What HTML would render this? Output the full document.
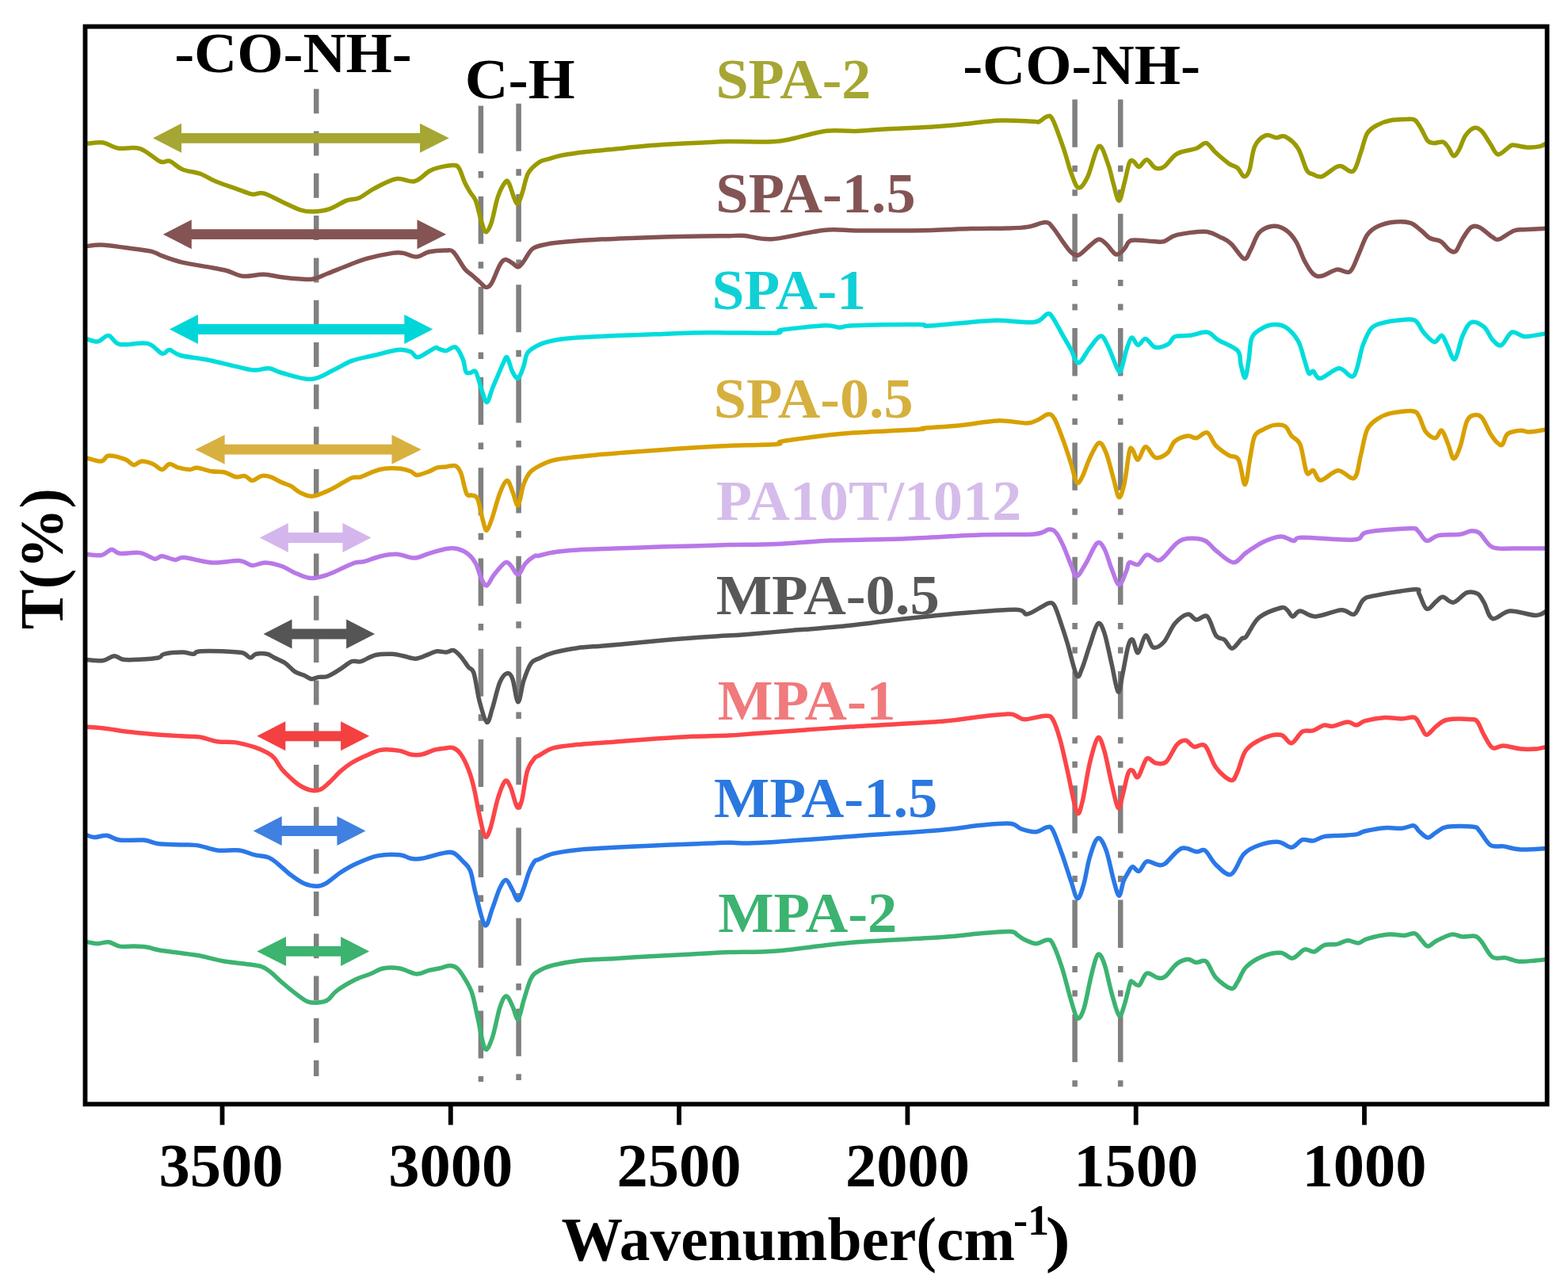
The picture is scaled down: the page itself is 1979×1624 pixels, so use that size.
<!DOCTYPE html>
<html><head><meta charset="utf-8"><title>FTIR</title>
<style>html,body{margin:0;padding:0;background:#fff;}svg{display:block;}</style>
</head><body>
<svg width="1979" height="1624" viewBox="0 0 1979 1624">
<rect width="1979" height="1624" fill="#fff"/>
<g stroke="#808080" stroke-width="6.5" fill="none">
<line x1="399.2" y1="112.2" x2="399.2" y2="1358" stroke-dasharray="31 22.3"/>
<line x1="606.9" y1="133.5" x2="606.9" y2="1365" stroke-dasharray="60 22.5 8.5 23.2"/>
<line x1="654.6" y1="130.8" x2="654.6" y2="1363" stroke-dasharray="60 22.5 8.5 23.2"/>
<line x1="1356.6" y1="125.5" x2="1356.6" y2="1373" stroke-dasharray="60.3 23 8 22.5 8 22.5"/>
<line x1="1414.2" y1="125.5" x2="1414.2" y2="1373" stroke-dasharray="60.3 23 8 22.5 8 22.5"/>
</g>
<polygon fill="#a6a634" points="193.0,174.3 229.0,155.8 229.0,167.9 530.0,167.9 530.0,155.8 566.7,174.3 530.0,192.8 530.0,180.7 229.0,180.7 229.0,192.8"/>
<polygon fill="#845454" points="205.8,295.7 241.8,277.2 241.8,289.3 526.5,289.3 526.5,277.2 563.2,295.7 526.5,314.2 526.5,302.1 241.8,302.1 241.8,314.2"/>
<polygon fill="#00d6d8" points="213.9,415.5 249.9,397.0 249.9,409.1 510.3,409.1 510.3,397.0 546.3,415.5 510.3,434.0 510.3,421.9 249.9,421.9 249.9,434.0"/>
<polygon fill="#d8b040" points="246.4,567.2 283.6,548.7 283.6,560.8 494.5,560.8 494.5,548.7 531.9,567.2 494.5,585.7 494.5,573.6 283.6,573.6 283.6,585.7"/>
<polygon fill="#d4b6ec" points="327.8,678.5 363.8,660.0 363.8,672.1 432.4,672.1 432.4,660.0 468.4,678.5 432.4,697.0 432.4,684.9 363.8,684.9 363.8,697.0"/>
<polygon fill="#555555" points="332.5,800.0 368.5,781.5 368.5,793.6 437.1,793.6 437.1,781.5 473.1,800.0 437.1,818.5 437.1,806.4 368.5,806.4 368.5,818.5"/>
<polygon fill="#f44040" points="324.3,928.8 360.3,910.3 360.3,922.4 430.1,922.4 430.1,910.3 466.1,928.8 430.1,947.3 430.1,935.2 360.3,935.2 360.3,947.3"/>
<polygon fill="#4080e0" points="319.7,1048.5 355.7,1030.0 355.7,1042.1 425.4,1042.1 425.4,1030.0 461.5,1048.5 425.4,1067.0 425.4,1054.9 355.7,1054.9 355.7,1067.0"/>
<polygon fill="#3cb36e" points="324.3,1200.4 361.0,1181.9 361.0,1194.0 430.1,1194.0 430.1,1181.9 466.1,1200.4 430.1,1218.9 430.1,1206.8 361.0,1206.8 361.0,1218.9"/>
<path d="M108.1,181.6 C111.8,181.3 123.4,179.1 130.2,180.0 C137.0,180.9 141.1,185.7 148.8,187.0 C156.6,188.3 167.8,184.8 176.7,187.6 C185.6,190.4 196.1,201.3 202.3,203.9 C208.5,206.5 209.2,201.6 213.9,203.2 C218.6,204.8 223.6,211.0 230.2,213.7 C236.8,216.4 246.4,217.0 253.4,219.5 C260.4,222.0 264.2,225.6 272.0,228.8 C279.8,232.0 292.1,236.1 299.9,238.8 C307.6,241.5 313.1,244.2 318.5,245.1 C323.9,245.9 326.3,242.3 332.5,243.9 C338.7,245.5 348.0,250.9 355.7,254.4 C363.4,257.9 372.3,262.7 378.9,264.8 C385.5,266.9 389.0,267.3 395.2,267.1 C401.4,266.9 409.1,266.0 416.1,263.7 C423.1,261.4 430.9,255.5 437.1,253.2 C443.3,250.9 447.5,252.2 453.3,249.7 C459.1,247.2 464.1,242.1 471.9,238.1 C479.6,234.1 491.3,227.4 499.8,225.8 C508.3,224.2 516.1,230.4 523.1,228.8 C530.1,227.2 536.6,218.9 541.7,216.0 C546.9,213.1 548.9,212.6 554.0,211.4 C559.1,210.2 568.2,208.4 572.5,208.6 C576.8,208.8 577.2,208.9 579.5,212.5 C581.8,216.1 584.2,225.0 586.5,230.0 C588.8,235.0 591.2,238.8 593.5,242.7 C595.8,246.6 598.1,247.2 600.4,253.2 C602.7,259.2 605.3,272.2 607.4,278.8 C609.5,285.4 611.1,292.3 613.2,292.7 C615.3,293.1 617.7,288.5 620.2,281.1 C622.7,273.8 625.4,257.1 628.3,248.6 C631.2,240.1 635.3,232.9 637.6,230.0 C639.9,227.1 640.3,227.6 642.3,231.1 C644.2,234.6 647.4,246.6 649.3,250.9 C651.2,255.2 652.2,258.2 653.9,256.7 C655.6,255.1 657.6,248.0 659.7,241.6 C661.8,235.2 663.3,224.4 666.7,218.3 C670.1,212.2 675.8,207.9 680.0,204.9 C684.2,201.9 687.1,202.1 692.1,200.6 C697.1,199.1 702.2,197.3 710.3,195.8 C718.4,194.3 729.5,192.8 740.6,191.5 C751.7,190.2 764.9,189.1 777.0,187.9 C789.1,186.7 801.3,185.3 813.4,184.3 C825.5,183.3 837.7,182.5 849.8,181.8 C861.9,181.1 874.5,180.5 886.2,180.0 C897.9,179.5 905.2,178.8 920.0,178.6 C934.8,178.4 961.6,179.4 974.9,178.8 C988.2,178.2 988.7,177.3 1000.0,175.0 C1011.3,172.7 1029.5,166.8 1042.8,165.2 C1056.1,163.6 1067.7,165.9 1080.0,165.5 C1092.3,165.1 1100.2,163.9 1116.4,163.0 C1132.6,162.1 1160.8,161.0 1177.0,160.0 C1193.2,159.0 1199.2,158.3 1213.4,157.0 C1227.6,155.7 1246.8,152.7 1261.9,152.1 C1277.1,151.5 1296.1,153.1 1304.3,153.3 C1312.5,153.6 1308.4,154.7 1311.3,153.6 C1314.2,152.5 1318.6,147.4 1321.5,147.0 C1324.4,146.6 1325.2,144.2 1328.7,151.0 C1332.2,157.8 1338.7,176.9 1342.6,188.1 C1346.5,199.3 1348.8,210.2 1351.9,218.3 C1355.0,226.4 1357.7,236.1 1361.2,236.9 C1364.7,237.7 1368.5,231.7 1372.8,223.0 C1377.1,214.3 1382.5,187.3 1386.8,184.6 C1391.1,181.9 1395.3,198.8 1398.4,206.7 C1401.5,214.6 1403.1,224.6 1405.4,232.3 C1407.7,240.1 1410.1,253.6 1412.4,253.2 C1414.7,252.8 1417.1,238.0 1419.3,230.0 C1421.5,222.0 1423.6,209.4 1425.5,205.0 C1427.4,200.6 1428.9,202.8 1430.9,203.7 C1432.9,204.6 1435.0,210.9 1437.7,210.5 C1440.4,210.1 1443.9,201.3 1447.3,201.5 C1450.7,201.7 1454.6,210.4 1458.2,211.9 C1461.8,213.4 1464.5,213.5 1469.1,210.5 C1473.6,207.5 1478.7,198.0 1485.5,194.1 C1492.3,190.2 1503.9,189.6 1510.0,187.3 C1516.1,185.0 1518.2,179.6 1522.3,180.5 C1526.4,181.4 1529.8,188.5 1534.6,192.8 C1539.4,197.1 1546.5,203.2 1551.0,206.4 C1555.5,209.6 1558.7,209.2 1561.9,211.9 C1565.1,214.6 1567.6,222.4 1570.1,222.8 C1572.6,223.2 1574.6,221.0 1576.9,214.6 C1579.2,208.2 1580.3,191.9 1583.7,184.6 C1587.1,177.3 1592.9,172.7 1597.4,170.9 C1602.0,169.1 1606.9,173.5 1611.0,173.7 C1615.1,173.9 1617.4,170.0 1621.9,172.3 C1626.5,174.6 1633.8,180.2 1638.3,187.3 C1642.8,194.4 1646.0,209.2 1649.2,214.6 C1652.4,220.0 1654.2,218.6 1657.4,220.0 C1660.6,221.4 1663.8,224.2 1668.3,222.8 C1672.8,221.5 1680.6,214.1 1684.7,211.9 C1688.8,209.7 1689.0,209.0 1692.9,209.7 C1696.8,210.4 1703.8,218.8 1707.9,216.0 C1712.0,213.2 1714.5,200.8 1717.4,192.8 C1720.4,184.8 1722.0,174.1 1725.6,168.2 C1729.2,162.3 1734.2,160.0 1739.2,157.3 C1744.2,154.6 1749.7,152.9 1755.6,151.8 C1761.5,150.7 1769.7,150.6 1774.7,150.5 C1779.7,150.4 1782.4,149.3 1785.6,151.3 C1788.8,153.3 1791.1,158.3 1793.8,162.7 C1796.5,167.1 1799.3,174.7 1802.0,177.7 C1804.7,180.7 1807.0,180.3 1810.2,180.5 C1813.4,180.7 1818.1,178.2 1821.1,179.1 C1824.0,180.0 1825.6,182.9 1827.9,185.9 C1830.2,188.9 1832.4,196.3 1834.7,196.8 C1837.0,197.3 1839.1,193.0 1841.6,188.7 C1844.1,184.4 1846.5,175.4 1849.7,170.9 C1852.9,166.4 1857.3,162.3 1860.7,161.4 C1864.1,160.5 1866.8,162.1 1870.2,165.5 C1873.6,168.9 1877.7,176.9 1881.1,181.8 C1884.5,186.7 1886.6,194.4 1890.7,194.9 C1894.8,195.4 1902.3,186.6 1905.7,184.6 C1909.1,182.6 1907.5,183.0 1911.1,183.2 C1914.7,183.4 1922.0,185.7 1927.5,185.9 C1933.0,186.1 1939.8,185.5 1943.9,184.6 C1948.0,183.7 1950.7,181.2 1952.1,180.5" fill="none" stroke="#9a9a00" stroke-width="5.5" stroke-linejoin="round" stroke-linecap="butt"/>
<path d="M108.1,310.9 C111.4,310.6 119.6,308.7 127.9,309.0 C136.2,309.3 147.6,311.1 158.1,312.5 C168.6,313.9 182.9,315.4 190.7,317.1 C198.4,318.8 198.0,320.6 204.6,322.9 C211.2,325.2 220.5,328.8 230.2,331.1 C239.9,333.4 253.4,335.2 262.7,336.9 C272.0,338.6 278.6,339.6 286.0,341.5 C293.4,343.4 299.1,347.7 306.9,348.5 C314.6,349.3 324.4,346.0 332.5,346.2 C340.6,346.4 348.0,348.7 355.7,349.7 C363.4,350.7 372.3,351.6 378.9,352.0 C385.5,352.4 389.4,353.2 395.2,352.0 C401.0,350.8 406.8,347.7 413.8,345.0 C420.8,342.3 429.0,338.8 437.1,335.7 C445.2,332.6 452.9,329.1 462.6,326.4 C472.3,323.7 487.4,320.6 495.2,319.4 C502.9,318.2 504.1,318.6 509.1,319.4 C514.1,320.2 520.0,324.4 525.4,324.1 C530.8,323.8 535.4,319.2 541.7,317.8 C548.0,316.4 558.1,315.9 563.2,316.0 C568.3,316.1 568.6,314.4 572.5,318.3 C576.4,322.2 582.6,334.4 586.5,339.2 C590.4,344.0 592.7,344.6 595.8,347.3 C598.9,350.0 602.2,353.0 605.1,355.5 C608.0,358.0 610.7,362.0 613.2,362.4 C615.7,362.8 617.3,362.4 620.2,357.8 C623.1,353.2 627.8,339.6 630.7,334.6 C633.6,329.6 634.9,328.0 637.6,327.6 C640.3,327.2 644.2,330.6 646.9,332.2 C649.6,333.8 651.6,337.3 653.9,336.9 C656.2,336.5 657.8,333.8 660.9,329.9 C664.0,326.0 667.6,317.2 672.5,313.6 C677.4,310.0 684.7,309.4 690.0,308.1 C695.3,306.9 695.9,306.9 704.3,306.1 C712.7,305.3 726.5,304.0 740.6,303.1 C754.7,302.2 772.9,301.4 789.1,300.7 C805.3,300.0 821.5,299.4 837.7,298.9 C853.9,298.4 872.5,298.1 886.2,297.9 C899.9,297.7 911.0,297.8 920.0,297.7 C929.0,297.6 930.9,296.7 940.0,297.4 C949.1,298.1 958.3,302.9 974.9,301.7 C991.5,300.5 1022.1,292.2 1039.6,290.4 C1057.1,288.6 1065.2,290.9 1080.0,291.0 C1094.8,291.1 1112.3,291.1 1128.5,291.0 C1144.7,290.9 1160.8,290.8 1177.0,290.4 C1193.2,290.0 1209.3,289.0 1225.5,288.6 C1241.7,288.2 1261.9,288.4 1274.0,288.0 C1286.1,287.6 1290.7,287.4 1298.3,286.1 C1305.9,284.9 1314.3,280.4 1319.4,280.5 C1324.5,280.6 1324.8,282.6 1328.7,287.0 C1332.6,291.4 1338.7,301.5 1342.6,306.7 C1346.5,311.9 1348.8,315.8 1351.9,318.3 C1355.0,320.8 1357.3,323.2 1361.2,321.8 C1365.1,320.4 1370.9,313.5 1375.2,310.2 C1379.5,306.9 1383.3,302.4 1386.8,302.0 C1390.3,301.6 1392.6,304.7 1396.1,307.8 C1399.6,310.9 1404.6,318.9 1407.7,320.6 C1410.8,322.4 1412.7,319.6 1414.7,318.3 C1416.8,317.0 1417.8,315.3 1420.0,312.8 C1422.2,310.3 1422.3,304.7 1428.2,303.3 C1434.1,301.9 1448.7,304.4 1455.5,304.6 C1462.3,304.8 1464.1,306.0 1469.1,304.6 C1474.1,303.2 1476.8,298.4 1485.5,296.4 C1494.2,294.3 1511.9,291.8 1521.0,292.3 C1530.1,292.8 1534.6,296.7 1540.1,299.2 C1545.5,301.7 1548.7,302.8 1553.7,307.4 C1558.7,311.9 1566.0,325.1 1570.1,326.5 C1574.2,327.9 1575.1,321.0 1578.3,315.5 C1581.5,310.0 1584.7,298.7 1589.2,293.7 C1593.7,288.7 1600.0,286.2 1605.5,285.5 C1611.0,284.8 1616.9,286.4 1621.9,289.6 C1626.9,292.8 1631.5,298.0 1635.6,304.6 C1639.7,311.2 1642.9,322.4 1646.5,329.2 C1650.1,336.0 1653.8,342.4 1657.4,345.6 C1661.0,348.8 1663.3,349.2 1668.3,348.3 C1673.3,347.4 1681.5,341.0 1687.4,340.1 C1693.3,339.2 1699.2,346.0 1703.8,342.8 C1708.3,339.6 1711.1,328.7 1714.7,321.0 C1718.3,313.3 1721.5,302.3 1725.6,296.4 C1729.7,290.5 1733.3,288.2 1739.2,285.5 C1745.1,282.8 1754.3,280.8 1761.1,280.1 C1767.9,279.4 1774.8,279.6 1780.2,281.4 C1785.7,283.2 1789.7,287.8 1793.8,291.0 C1797.9,294.2 1800.6,298.2 1804.7,300.5 C1808.8,302.8 1814.3,302.1 1818.4,304.6 C1822.5,307.1 1826.1,313.4 1829.3,315.5 C1832.5,317.6 1834.8,319.2 1837.5,316.9 C1840.2,314.6 1842.4,306.9 1845.6,301.9 C1848.8,296.9 1852.9,289.4 1856.6,286.9 C1860.2,284.4 1863.0,284.8 1867.5,286.9 C1872.0,288.9 1879.7,296.7 1883.8,299.2 C1887.9,301.7 1887.5,303.3 1892.0,301.9 C1896.5,300.5 1905.2,293.1 1911.1,291.0 C1917.0,288.9 1920.7,290.1 1927.5,289.6 C1934.3,289.2 1948.0,288.5 1952.1,288.3" fill="none" stroke="#855252" stroke-width="5.5" stroke-linejoin="round" stroke-linecap="butt"/>
<path d="M108.1,427.1 C110.6,427.8 118.4,431.6 123.2,431.0 C128.1,430.4 132.5,422.8 137.2,423.4 C141.8,424.0 143.0,432.8 151.1,434.5 C159.2,436.2 177.1,431.5 186.0,433.4 C194.9,435.3 199.9,444.8 204.6,446.1 C209.2,447.5 210.0,441.1 213.9,441.5 C217.8,441.9 219.7,446.4 227.8,448.5 C235.9,450.6 251.1,452.0 262.7,454.3 C274.3,456.6 287.9,460.3 297.6,462.4 C307.3,464.5 313.8,466.7 320.8,467.1 C327.8,467.5 333.6,464.1 339.4,464.7 C345.2,465.3 346.8,468.2 355.7,470.5 C364.6,472.8 382.1,479.1 393.0,478.5 C403.9,477.9 412.3,471.0 420.8,467.1 C429.3,463.2 435.5,458.5 444.0,455.4 C452.5,452.3 462.2,450.8 471.9,448.5 C481.6,446.2 494.4,442.3 502.1,441.5 C509.9,440.7 514.1,442.2 518.4,443.8 C522.7,445.4 522.7,451.6 527.7,450.8 C532.7,450.0 544.2,440.9 548.6,439.2 C553.0,437.4 551.6,439.7 554.0,440.3 C556.4,440.9 559.7,443.0 563.2,442.6 C566.7,442.2 571.4,436.2 574.9,438.0 C578.4,439.8 582.0,447.9 584.2,453.1 C586.4,458.3 586.5,466.1 588.0,469.0 C589.5,471.9 591.4,470.4 593.5,470.5 C595.6,470.6 598.1,466.0 600.4,469.3 C602.7,472.6 605.1,483.8 607.4,490.2 C609.7,496.6 612.1,507.7 614.4,507.7 C616.7,507.7 619.1,495.8 621.4,490.2 C623.7,484.6 626.0,479.4 628.3,474.0 C630.6,468.6 633.3,461.8 635.3,458.0 C637.2,454.2 638.1,449.1 640.0,451.0 C641.9,452.9 644.6,464.9 646.9,469.3 C649.2,473.7 651.6,478.6 653.9,477.4 C656.2,476.2 658.9,467.7 660.9,462.3 C662.9,456.9 662.8,449.5 666.0,445.0 C669.2,440.5 674.6,437.8 680.0,435.2 C685.4,432.6 690.1,431.2 698.2,429.7 C706.3,428.2 715.4,427.1 728.5,426.1 C741.6,425.1 760.8,424.3 777.0,423.6 C793.2,422.9 809.3,422.4 825.5,421.8 C841.7,421.2 858.2,420.3 874.0,420.0 C889.8,419.7 902.2,419.9 920.0,419.9 C937.8,419.9 969.5,420.5 980.6,419.9 C991.7,419.3 976.6,417.7 986.7,416.2 C996.8,414.7 1029.2,411.3 1041.3,410.8 C1053.4,410.3 1053.4,413.2 1059.5,413.2 C1065.6,413.2 1061.0,411.4 1077.7,410.8 C1094.5,410.2 1144.5,409.5 1160.0,409.6 C1175.5,409.7 1161.8,411.6 1170.6,411.3 C1179.3,411.0 1197.8,409.0 1212.5,407.8 C1227.2,406.6 1243.4,404.5 1258.9,404.3 C1274.4,404.1 1294.9,408.0 1305.4,406.6 C1315.9,405.2 1317.8,397.2 1321.7,396.2 C1325.6,395.2 1325.2,396.0 1328.7,400.8 C1332.2,405.6 1338.7,418.4 1342.6,425.2 C1346.5,432.0 1348.8,436.1 1351.9,441.5 C1355.0,446.9 1357.3,458.2 1361.2,457.8 C1365.1,457.4 1370.6,444.8 1375.2,439.2 C1379.8,433.6 1385.2,424.4 1389.1,424.0 C1393.0,423.6 1394.9,430.0 1398.4,436.8 C1401.9,443.6 1407.3,459.6 1410.0,464.7 C1412.7,469.8 1412.8,471.0 1414.7,467.1 C1416.7,463.2 1419.5,448.4 1421.7,441.5 C1424.0,434.6 1425.8,427.0 1428.2,426.0 C1430.7,425.0 1433.5,435.4 1436.4,435.6 C1439.4,435.8 1442.3,426.9 1445.9,427.4 C1449.5,427.8 1453.4,437.2 1458.2,438.3 C1463.0,439.4 1470.5,436.5 1474.6,434.2 C1478.7,431.9 1478.2,426.5 1482.8,424.7 C1487.3,422.9 1495.1,424.2 1501.9,423.3 C1508.7,422.4 1517.8,418.3 1523.7,419.2 C1529.6,420.1 1530.9,424.9 1537.3,428.8 C1543.7,432.7 1557.1,437.2 1561.9,442.4 C1566.7,447.6 1564.4,454.3 1566.0,460.0 C1567.6,465.7 1569.7,477.3 1571.4,476.5 C1573.1,475.7 1574.6,463.2 1576.0,455.0 C1577.4,446.8 1577.4,433.8 1579.6,427.4 C1581.8,421.0 1584.9,419.4 1589.2,416.5 C1593.5,413.6 1600.0,410.4 1605.5,409.7 C1611.0,409.0 1616.4,409.0 1621.9,412.4 C1627.4,415.8 1634.2,423.1 1638.3,430.1 C1642.4,437.2 1644.2,447.9 1646.5,454.7 C1648.8,461.5 1650.1,468.8 1651.9,471.1 C1653.7,473.4 1655.0,467.2 1657.4,468.3 C1659.8,469.4 1661.0,478.1 1666.5,477.5 C1672.0,476.9 1683.1,465.3 1690.1,464.8 C1697.1,464.3 1703.5,479.2 1708.5,474.3 C1713.5,469.4 1716.3,445.7 1720.1,435.6 C1723.9,425.5 1726.5,418.6 1731.1,413.8 C1735.6,409.0 1742.0,408.5 1747.4,406.9 C1752.9,405.3 1757.4,404.6 1763.8,404.2 C1770.2,403.8 1780.1,401.7 1785.6,404.2 C1791.0,406.7 1792.4,414.6 1796.5,419.2 C1800.6,423.8 1806.3,430.8 1810.2,431.5 C1814.1,432.2 1817.0,422.6 1819.7,423.3 C1822.4,424.0 1823.8,430.6 1826.5,435.6 C1829.2,440.6 1832.9,455.1 1836.1,453.3 C1839.3,451.5 1842.2,432.4 1845.6,424.7 C1849.0,417.0 1852.0,408.9 1856.6,406.9 C1861.1,404.8 1868.4,408.8 1872.9,412.4 C1877.4,416.0 1880.2,424.9 1883.8,428.8 C1887.4,432.7 1890.7,437.2 1894.8,435.6 C1898.9,434.0 1903.4,421.0 1908.4,419.2 C1913.4,417.4 1917.5,424.5 1924.8,424.7 C1932.1,424.9 1947.5,421.3 1952.1,420.6" fill="none" stroke="#00dcdc" stroke-width="5.5" stroke-linejoin="round" stroke-linecap="butt"/>
<path d="M108.1,577.4 C111.4,578.2 123.1,582.4 127.9,582.0 C132.8,581.6 132.2,575.5 137.2,575.1 C142.2,574.7 152.9,577.8 158.1,579.7 C163.3,581.6 165.1,586.3 168.6,586.7 C172.1,587.1 174.9,582.2 179.0,582.0 C183.1,581.8 188.7,583.8 193.0,585.5 C197.3,587.2 201.1,592.5 204.6,592.5 C208.1,592.5 210.4,585.9 213.9,585.5 C217.4,585.1 221.2,589.0 225.5,590.2 C229.8,591.4 235.6,592.5 239.5,592.5 C243.4,592.5 244.2,589.8 248.8,590.2 C253.5,590.6 261.6,593.8 267.4,594.8 C273.2,595.8 278.6,594.8 283.6,596.0 C288.6,597.2 293.3,601.0 297.6,601.8 C301.9,602.6 305.7,599.8 309.2,600.6 C312.7,601.4 315.0,606.4 318.5,606.4 C322.0,606.4 326.2,601.4 330.1,600.6 C334.0,599.8 337.4,600.4 341.7,601.8 C346.0,603.2 351.4,606.9 355.7,608.8 C360.0,610.7 363.4,611.3 367.3,613.4 C371.2,615.5 374.4,619.5 378.9,621.6 C383.3,623.7 388.6,626.4 394.0,626.2 C399.4,626.0 406.3,622.5 411.5,620.4 C416.7,618.3 420.0,616.3 425.4,613.4 C430.8,610.5 439.0,604.9 444.0,603.0 C449.0,601.1 451.0,603.2 455.6,601.8 C460.2,600.4 466.8,596.5 471.9,594.8 C476.9,593.0 480.5,591.9 485.9,591.3 C491.3,590.7 499.1,590.7 504.5,591.3 C509.9,591.9 514.7,593.4 518.4,594.8 C522.1,596.2 522.6,599.5 526.5,599.5 C530.4,599.5 537.5,596.3 541.7,594.8 C545.9,593.2 548.0,591.2 551.6,590.2 C555.2,589.2 559.3,589.4 563.2,589.0 C567.1,588.6 571.8,586.4 574.9,587.8 C578.0,589.1 579.5,591.3 581.8,597.1 C584.1,602.9 586.5,618.1 588.8,622.7 C591.1,627.4 593.5,623.8 595.8,625.0 C598.1,626.2 600.5,624.3 602.8,629.7 C605.1,635.1 607.8,651.0 609.7,657.6 C611.6,664.2 612.5,670.0 614.4,669.2 C616.3,668.4 618.7,660.6 621.4,652.9 C624.1,645.1 627.6,630.5 630.7,622.7 C633.8,615.0 637.3,606.8 640.0,606.4 C642.7,606.0 644.6,615.2 646.9,620.4 C649.2,625.6 651.6,639.3 653.9,637.8 C656.2,636.2 658.2,618.3 660.9,611.1 C663.6,603.9 665.4,599.4 670.2,594.8 C675.1,590.2 684.3,586.1 690.0,583.6 C695.7,581.1 695.9,580.9 704.3,579.5 C712.7,578.1 726.5,576.6 740.6,575.2 C754.7,573.8 772.9,572.3 789.1,571.0 C805.3,569.7 821.5,568.5 837.7,567.4 C853.9,566.3 872.5,565.1 886.2,564.3 C899.9,563.5 904.3,563.1 920.0,562.5 C935.7,561.9 969.5,561.4 980.6,560.5 C991.7,559.6 976.6,558.7 986.7,556.9 C996.8,555.1 1026.1,551.4 1041.3,549.6 C1056.5,547.8 1057.9,547.3 1077.7,546.0 C1097.5,544.7 1145.3,542.7 1160.0,541.7 C1174.7,540.7 1157.2,541.0 1166.0,540.2 C1174.8,539.4 1197.0,538.2 1212.5,536.7 C1228.0,535.2 1245.0,531.4 1258.9,530.9 C1272.8,530.4 1287.6,534.1 1296.1,533.9 C1304.6,533.7 1305.6,531.6 1310.1,529.7 C1314.6,527.9 1319.4,523.0 1322.9,522.8 C1326.4,522.6 1327.7,522.8 1331.0,528.6 C1334.3,534.4 1339.1,548.1 1342.6,557.6 C1346.1,567.1 1349.2,577.0 1351.9,585.5 C1354.6,594.0 1356.6,606.1 1358.9,608.8 C1361.2,611.5 1363.2,606.8 1365.9,601.8 C1368.6,596.8 1371.7,585.8 1375.2,578.6 C1378.7,571.4 1383.3,560.0 1386.8,558.8 C1390.3,557.6 1393.0,564.0 1396.1,571.6 C1399.2,579.2 1402.7,594.8 1405.4,604.1 C1408.1,613.4 1410.1,626.6 1412.4,627.4 C1414.7,628.2 1417.1,618.5 1419.3,608.8 C1421.5,599.1 1423.8,575.9 1425.5,569.1 C1427.2,562.3 1427.7,566.0 1429.5,567.8 C1431.3,569.6 1433.7,580.8 1436.4,580.1 C1439.1,579.4 1442.3,564.2 1445.9,563.7 C1449.5,563.2 1453.7,575.9 1458.2,577.3 C1462.8,578.7 1469.1,575.3 1473.2,571.9 C1477.3,568.5 1478.5,560.5 1482.8,556.9 C1487.1,553.2 1494.6,550.7 1499.1,550.0 C1503.6,549.3 1505.9,553.5 1510.0,552.8 C1514.1,552.1 1519.6,544.4 1523.7,546.0 C1527.8,547.6 1530.0,557.5 1534.6,562.3 C1539.1,567.1 1546.2,571.6 1551.0,574.6 C1555.8,577.6 1559.8,574.0 1563.2,580.1 C1566.6,586.2 1568.9,612.3 1571.4,611.4 C1573.9,610.5 1576.2,584.8 1578.3,574.6 C1580.3,564.4 1581.0,555.5 1583.7,550.0 C1586.4,544.5 1590.5,544.2 1594.6,541.9 C1598.7,539.6 1603.8,537.1 1608.3,536.4 C1612.8,535.7 1618.3,535.5 1621.9,537.8 C1625.5,540.1 1626.9,546.1 1630.1,550.0 C1633.3,553.9 1637.8,553.3 1641.0,561.0 C1644.2,568.7 1646.5,590.9 1649.2,596.4 C1651.9,601.9 1654.5,592.1 1657.4,593.7 C1660.4,595.3 1661.7,606.0 1666.9,606.0 C1672.1,606.0 1681.8,594.2 1688.8,593.7 C1695.8,593.2 1704.4,606.4 1709.2,603.2 C1714.0,600.0 1714.7,584.8 1717.4,574.6 C1720.1,564.4 1722.0,549.6 1725.6,541.9 C1729.2,534.2 1734.2,531.6 1739.2,528.2 C1744.2,524.8 1748.3,523.0 1755.6,521.4 C1762.9,519.8 1777.0,518.0 1782.9,518.7 C1788.8,519.4 1788.4,521.2 1791.1,525.5 C1793.8,529.8 1795.9,540.1 1799.3,544.6 C1802.7,549.1 1808.1,553.0 1811.5,552.8 C1814.9,552.6 1817.0,541.8 1819.7,543.2 C1822.4,544.6 1825.4,555.1 1827.9,561.0 C1830.4,566.9 1832.2,578.2 1834.7,578.7 C1837.2,579.2 1840.2,571.4 1842.9,563.7 C1845.6,556.0 1848.4,538.9 1851.1,532.3 C1853.8,525.7 1856.1,525.0 1859.3,524.1 C1862.5,523.2 1866.6,522.9 1870.2,526.8 C1873.8,530.7 1877.9,542.1 1881.1,547.3 C1884.3,552.5 1886.8,555.9 1889.3,558.2 C1891.8,560.5 1893.8,562.8 1896.1,561.0 C1898.4,559.2 1899.1,550.3 1903.0,547.3 C1906.9,544.3 1914.8,543.6 1919.3,543.2 C1923.8,542.8 1924.7,545.3 1930.2,545.1 C1935.7,544.9 1948.4,542.4 1952.1,541.9" fill="none" stroke="#d8a000" stroke-width="5.5" stroke-linejoin="round" stroke-linecap="butt"/>
<path d="M108.1,699.4 C111.4,699.6 122.5,701.6 127.9,700.6 C133.3,699.6 136.8,694.0 140.7,693.6 C144.6,693.2 145.1,697.6 151.1,698.3 C157.1,699.0 169.3,696.5 176.7,697.6 C184.1,698.8 190.7,704.5 195.3,705.2 C200.0,705.9 200.3,701.5 204.6,701.7 C208.9,701.9 216.2,706.1 220.9,706.4 C225.6,706.7 224.8,703.0 232.5,703.6 C240.2,704.2 255.8,709.2 267.4,709.9 C279.0,710.6 293.7,707.0 302.2,707.6 C310.7,708.2 313.1,713.0 318.5,713.4 C323.9,713.8 328.6,709.7 334.8,709.9 C341.0,710.1 349.1,712.2 355.7,714.5 C362.3,716.8 368.1,721.3 374.3,723.8 C380.5,726.3 386.3,729.4 392.9,729.6 C399.5,729.8 406.8,727.3 413.8,725.0 C420.8,722.7 428.9,718.2 434.7,715.7 C440.5,713.2 444.4,711.1 448.7,709.9 C453.0,708.7 454.9,709.7 460.3,708.3 C465.7,706.9 474.2,703.2 481.2,701.7 C488.2,700.2 495.1,699.0 502.1,699.4 C509.1,699.8 516.5,704.3 523.1,704.1 C529.7,703.9 535.0,700.2 541.7,698.3 C548.4,696.4 557.3,693.5 563.2,692.5 C569.1,691.5 572.6,691.4 577.2,692.5 C581.9,693.6 587.2,696.3 591.1,699.4 C595.0,702.5 597.7,706.0 600.4,711.0 C603.1,716.0 605.1,725.0 607.4,729.6 C609.7,734.2 611.7,739.7 614.4,738.9 C617.1,738.1 619.8,729.8 623.7,725.0 C627.6,720.2 634.1,711.8 637.6,709.9 C641.1,708.0 641.9,710.9 644.6,713.4 C647.3,715.9 650.8,725.4 653.9,725.0 C657.0,724.6 659.7,714.9 663.2,711.0 C666.7,707.1 672.0,703.3 674.8,701.7 C677.6,700.1 676.1,702.0 680.0,701.2 C683.9,700.4 690.1,698.2 698.2,697.0 C706.3,695.8 715.4,694.8 728.5,694.0 C741.6,693.2 760.8,692.7 777.0,692.1 C793.2,691.5 809.3,690.8 825.5,690.3 C841.7,689.8 858.2,689.3 874.0,688.9 C889.8,688.5 902.3,688.0 920.0,687.6 C937.7,687.2 958.4,687.5 980.0,686.6 C1001.6,685.7 1022.6,683.1 1049.7,682.0 C1076.8,680.9 1111.7,680.9 1142.7,679.7 C1173.7,678.5 1208.6,676.0 1235.7,675.0 C1262.8,674.0 1290.7,675.1 1305.4,673.9 C1320.1,672.7 1319.3,668.2 1324.0,668.0 C1328.7,667.8 1330.2,669.0 1333.3,672.7 C1336.4,676.4 1339.5,683.3 1342.6,690.1 C1345.7,696.9 1349.2,707.2 1351.9,713.4 C1354.6,719.6 1355.8,727.7 1358.9,727.3 C1362.0,726.9 1366.2,718.0 1370.5,711.0 C1374.8,704.0 1380.6,688.6 1384.5,685.5 C1388.4,682.4 1390.7,687.1 1393.8,692.5 C1396.9,697.9 1400.0,710.5 1403.1,718.0 C1406.2,725.5 1409.3,737.4 1412.4,737.8 C1415.5,738.2 1419.5,725.0 1421.7,720.3 C1423.9,715.6 1423.0,711.0 1425.5,709.7 C1428.0,708.4 1432.8,714.0 1436.4,712.4 C1440.0,710.8 1443.2,701.0 1447.3,700.1 C1451.4,699.2 1457.3,706.5 1460.9,706.9 C1464.5,707.3 1465.0,706.4 1469.1,702.8 C1473.2,699.2 1480.5,689.0 1485.5,685.1 C1490.5,681.2 1493.2,680.1 1499.1,679.6 C1505.0,679.1 1515.1,679.9 1521.0,682.4 C1526.9,684.9 1528.7,690.2 1534.6,694.7 C1540.5,699.2 1550.0,709.2 1556.4,709.7 C1562.8,710.2 1566.4,701.7 1572.8,697.4 C1579.2,693.1 1587.3,687.1 1594.6,683.7 C1601.9,680.3 1610.1,677.1 1616.5,676.9 C1622.9,676.7 1628.3,682.2 1632.8,682.4 C1637.3,682.6 1631.0,678.5 1643.7,678.3 C1656.4,678.1 1695.6,682.1 1709.2,681.0 C1722.8,679.9 1713.8,673.9 1725.6,671.5 C1737.4,669.1 1769.5,667.0 1780.2,666.8 C1790.9,666.6 1786.3,667.5 1789.7,670.1 C1793.1,672.7 1796.3,681.5 1800.6,682.4 C1804.9,683.3 1808.5,677.0 1815.6,675.6 C1822.6,674.2 1836.1,675.1 1842.9,674.2 C1849.7,673.3 1852.5,670.3 1856.6,670.1 C1860.7,669.9 1863.0,669.4 1867.5,672.8 C1872.0,676.2 1876.5,687.4 1883.8,690.6 C1891.1,693.8 1899.7,691.7 1911.1,691.9 C1922.5,692.1 1945.3,691.9 1952.1,691.9" fill="none" stroke="#b878e8" stroke-width="5.5" stroke-linejoin="round" stroke-linecap="butt"/>
<path d="M108.1,832.3 C111.8,832.5 124.2,834.3 130.2,833.5 C136.2,832.7 139.9,827.9 144.2,827.7 C148.5,827.5 150.8,831.5 155.8,832.3 C160.8,833.1 167.0,832.7 174.4,832.3 C181.8,831.9 194.6,831.2 200.0,830.0 C205.4,828.8 201.9,826.5 206.9,825.3 C211.9,824.1 224.0,823.0 230.2,823.0 C236.4,823.0 240.2,825.5 244.1,825.3 C248.0,825.1 244.1,822.2 253.4,821.8 C262.7,821.4 290.6,822.4 299.9,823.0 C309.2,823.6 306.5,824.1 309.2,825.3 C311.9,826.5 313.9,830.0 316.2,830.0 C318.5,830.0 319.7,826.1 323.2,825.3 C326.7,824.5 333.2,824.5 337.1,825.3 C341.0,826.1 342.5,828.0 346.4,830.0 C350.3,832.0 356.0,834.1 360.3,837.0 C364.6,839.9 368.1,844.9 372.0,847.4 C375.9,849.9 380.1,850.5 383.6,852.1 C387.1,853.7 389.8,856.3 392.9,856.7 C396.0,857.1 398.7,855.0 402.2,854.4 C405.7,853.8 409.1,855.0 413.8,853.2 C418.5,851.5 425.1,847.0 430.1,843.9 C435.1,840.8 439.8,836.1 444.0,834.6 C448.2,833.1 450.6,836.0 455.6,834.6 C460.6,833.2 467.6,828.0 474.2,826.5 C480.8,825.0 489.4,825.1 495.2,825.3 C501.0,825.5 504.1,826.7 509.1,827.7 C514.1,828.7 520.0,831.5 525.4,831.1 C530.8,830.7 537.3,826.8 541.7,825.3 C546.1,823.8 548.0,822.2 551.6,821.8 C555.2,821.4 559.7,823.2 563.2,823.0 C566.7,822.8 569.4,819.7 572.5,820.7 C575.6,821.7 578.7,825.3 581.8,828.8 C584.9,832.3 588.4,838.1 591.1,841.6 C593.8,845.1 595.8,842.5 598.1,849.7 C600.4,856.9 602.4,874.3 605.1,884.6 C607.8,894.9 611.7,909.8 614.4,911.3 C617.1,912.8 618.7,902.2 621.4,893.9 C624.1,885.6 627.6,868.8 630.7,861.4 C633.8,854.0 637.3,850.5 640.0,849.7 C642.7,848.9 644.6,850.7 646.9,856.7 C649.2,862.7 651.6,885.4 653.9,885.8 C656.2,886.2 658.2,867.1 660.9,859.0 C663.6,850.9 667.0,841.7 670.2,837.0 C673.4,832.3 675.3,833.2 680.0,831.0 C684.7,828.8 690.1,825.9 698.2,823.7 C706.3,821.5 718.1,819.2 728.5,817.7 C738.9,816.2 749.2,816.0 760.6,815.0 C772.0,814.0 784.9,812.9 797.0,811.8 C809.1,810.7 821.3,809.3 833.4,808.2 C845.5,807.1 857.7,806.1 869.8,805.2 C881.9,804.3 894.5,803.4 906.2,802.7 C917.9,802.0 924.4,802.0 940.0,800.8 C955.6,799.6 980.0,797.2 1000.0,795.5 C1020.0,793.8 1036.2,793.1 1060.0,790.6 C1083.8,788.1 1117.3,783.6 1142.7,780.8 C1168.1,778.0 1189.2,775.7 1212.5,773.8 C1235.8,771.9 1268.3,769.0 1282.2,769.2 C1296.1,769.4 1290.7,775.6 1296.1,775.0 C1301.5,774.4 1310.0,768.0 1314.7,765.7 C1319.4,763.4 1321.3,761.2 1324.0,761.0 C1326.7,760.8 1328.3,759.6 1331.0,764.5 C1333.7,769.4 1337.6,782.2 1340.3,790.1 C1343.0,798.0 1344.2,801.7 1347.3,812.0 C1350.4,822.3 1355.8,847.0 1358.9,852.1 C1362.0,857.2 1363.2,849.0 1365.9,842.8 C1368.6,836.6 1371.9,824.2 1375.2,814.9 C1378.5,805.6 1382.5,789.7 1385.6,787.0 C1388.7,784.3 1390.9,790.1 1393.8,798.6 C1396.7,807.1 1400.2,825.7 1403.1,838.1 C1406.0,850.5 1408.9,871.1 1411.2,873.0 C1413.5,874.9 1414.9,859.4 1417.0,849.7 C1419.1,840.0 1421.9,822.0 1424.0,814.9 C1426.1,807.8 1427.4,805.8 1429.5,807.3 C1431.6,808.8 1433.7,824.6 1436.4,823.7 C1439.1,822.8 1442.7,802.9 1445.9,801.8 C1449.1,800.6 1451.6,815.4 1455.5,816.8 C1459.4,818.2 1464.5,815.0 1469.1,810.0 C1473.6,805.0 1477.8,792.6 1482.8,786.8 C1487.8,781.0 1494.6,775.9 1499.1,775.1 C1503.6,774.3 1505.9,781.5 1510.0,782.0 C1514.1,782.5 1519.6,774.6 1523.7,777.9 C1527.8,781.2 1531.0,796.9 1534.6,801.8 C1538.2,806.7 1542.1,804.6 1545.5,807.3 C1548.9,810.0 1551.5,818.4 1555.1,818.2 C1558.7,818.0 1564.3,808.4 1567.3,805.9 C1570.2,803.4 1569.1,807.7 1572.8,803.2 C1576.5,798.8 1581.9,785.2 1589.2,779.2 C1596.5,773.2 1610.6,768.6 1616.5,767.0 C1622.4,765.4 1622.1,767.9 1624.6,769.7 C1627.1,771.5 1628.8,777.7 1631.5,777.9 C1634.2,778.1 1636.2,771.0 1641.0,771.0 C1645.8,771.0 1651.4,778.1 1660.1,777.9 C1668.8,777.7 1684.7,770.2 1692.9,769.7 C1701.1,769.2 1704.7,777.2 1709.2,775.1 C1713.7,773.0 1716.0,761.3 1720.1,757.4 C1724.2,753.5 1722.9,754.2 1733.8,751.9 C1744.7,749.6 1776.0,744.2 1785.6,743.8 C1795.1,743.3 1788.6,745.1 1791.1,749.2 C1793.6,753.3 1797.0,766.7 1800.6,768.3 C1804.2,769.9 1809.5,761.3 1812.9,758.8 C1816.3,756.3 1817.5,753.1 1821.1,753.3 C1824.7,753.5 1829.7,761.0 1834.7,760.1 C1839.7,759.2 1846.1,749.7 1851.1,747.9 C1856.1,746.1 1861.2,747.2 1864.8,749.2 C1868.4,751.2 1869.7,754.9 1872.9,760.1 C1876.1,765.3 1878.3,778.8 1883.8,780.6 C1889.3,782.4 1896.6,771.7 1905.7,771.0 C1914.8,770.3 1930.7,776.5 1938.4,776.5 C1946.1,776.5 1949.8,771.9 1952.1,771.0" fill="none" stroke="#555555" stroke-width="5.5" stroke-linejoin="round" stroke-linecap="butt"/>
<path d="M108.1,917.1 C112.6,917.5 126.6,918.5 134.9,919.5 C143.2,920.5 148.4,921.9 158.1,923.0 C167.8,924.1 181.4,925.4 193.0,926.4 C204.6,927.4 218.1,928.2 227.8,928.8 C237.5,929.4 243.3,928.8 251.1,929.9 C258.9,931.0 266.6,934.5 274.3,935.7 C282.1,936.9 289.9,935.7 297.6,936.9 C305.4,938.1 314.2,940.6 320.8,942.7 C327.4,944.8 332.8,947.4 337.1,949.7 C341.4,952.0 343.3,953.2 346.4,956.7 C349.5,960.2 352.2,966.4 355.7,970.6 C359.2,974.9 363.4,978.7 367.3,982.2 C371.2,985.7 374.6,989.0 378.9,991.5 C383.2,994.0 388.6,996.5 392.9,997.3 C397.2,998.1 400.6,997.9 404.5,996.2 C408.4,994.5 411.8,990.8 416.1,986.9 C420.4,983.0 425.5,977.0 430.1,972.9 C434.8,968.8 438.6,965.8 444.0,962.5 C449.4,959.2 456.4,955.9 462.6,953.2 C468.8,950.5 474.2,947.2 481.2,946.2 C488.2,945.2 498.3,946.4 504.5,947.4 C510.7,948.4 513.8,951.2 518.4,952.0 C523.0,952.8 527.4,953.0 532.4,952.0 C537.4,951.0 543.5,947.6 548.6,946.2 C553.7,944.9 559.2,944.3 563.2,943.9 C567.2,943.5 569.4,942.5 572.5,943.9 C575.6,945.2 578.7,947.5 581.8,952.0 C584.9,956.5 588.4,963.6 591.1,970.6 C593.8,977.6 595.8,984.2 598.1,993.9 C600.4,1003.6 602.8,1018.4 605.1,1028.7 C607.4,1039.0 609.8,1052.8 612.1,1055.5 C614.4,1058.2 616.3,1053.0 619.0,1045.0 C621.7,1037.0 625.2,1017.7 628.3,1007.8 C631.4,997.9 634.9,988.0 637.6,985.7 C640.3,983.4 642.1,988.5 644.6,993.9 C647.1,999.3 650.4,1015.6 652.7,1018.3 C655.0,1021.0 656.5,1017.7 658.6,1010.1 C660.7,1002.5 662.8,981.8 665.5,972.9 C668.2,964.0 672.4,959.9 674.8,956.7 C677.2,953.5 676.1,955.6 680.0,953.5 C683.9,951.4 690.1,946.1 698.2,943.8 C706.3,941.5 715.4,940.9 728.5,939.6 C741.6,938.3 760.8,937.1 777.0,935.9 C793.2,934.7 809.3,933.4 825.5,932.3 C841.7,931.2 858.2,930.0 874.0,929.3 C889.8,928.6 905.9,928.7 920.0,928.0 C934.1,927.3 932.9,927.1 958.4,925.3 C983.9,923.5 1034.5,919.6 1073.0,917.1 C1111.5,914.6 1162.1,912.3 1189.2,910.2 C1216.3,908.1 1221.8,906.0 1235.7,904.4 C1249.7,902.8 1265.2,901.1 1272.9,900.9 C1280.7,900.7 1278.7,902.1 1282.2,903.2 C1285.7,904.4 1287.6,907.8 1293.8,907.8 C1300.0,907.8 1313.6,903.2 1319.4,903.2 C1325.2,903.2 1325.6,902.8 1328.7,907.8 C1331.8,912.8 1334.9,922.5 1338.0,933.4 C1341.1,944.2 1343.8,957.8 1347.3,972.9 C1350.8,988.0 1355.8,1017.5 1358.9,1024.1 C1362.0,1030.7 1363.2,1022.5 1365.9,1012.4 C1368.6,1002.3 1371.9,977.1 1375.2,963.6 C1378.5,950.1 1382.5,933.8 1385.6,931.1 C1388.7,928.4 1390.9,937.7 1393.8,947.4 C1396.7,957.1 1400.2,977.2 1403.1,989.2 C1406.0,1001.2 1408.9,1017.1 1411.2,1019.4 C1413.5,1021.7 1414.9,1010.6 1417.0,1003.2 C1419.1,995.9 1421.9,980.4 1424.0,975.3 C1426.1,970.2 1427.4,971.5 1429.5,972.4 C1431.6,973.3 1433.4,983.0 1436.4,980.5 C1439.4,978.0 1443.7,960.4 1447.3,957.4 C1450.9,954.4 1454.1,962.1 1458.2,962.8 C1462.3,963.5 1467.2,965.3 1471.8,961.4 C1476.3,957.5 1481.4,944.1 1485.5,939.6 C1489.6,935.1 1492.8,933.8 1496.4,934.2 C1500.0,934.7 1503.2,941.2 1507.3,942.3 C1511.4,943.4 1516.5,936.7 1521.0,941.0 C1525.5,945.3 1529.1,961.0 1534.6,968.3 C1540.0,975.6 1549.2,983.7 1553.7,984.6 C1558.2,985.5 1558.7,980.1 1561.9,973.7 C1565.1,967.3 1567.3,953.5 1572.8,946.4 C1578.2,939.3 1587.3,934.6 1594.6,931.4 C1601.9,928.2 1610.6,926.2 1616.5,927.3 C1622.4,928.3 1625.6,938.4 1630.1,937.7 C1634.6,937.0 1639.2,925.8 1643.7,923.2 C1648.2,920.6 1652.9,923.2 1657.4,921.9 C1662.0,920.5 1666.9,916.0 1671.0,915.1 C1675.1,914.2 1676.9,917.1 1681.9,916.4 C1686.9,915.7 1696.0,911.2 1701.0,911.0 C1706.0,910.8 1708.2,915.3 1711.9,915.1 C1715.6,914.9 1717.0,911.2 1722.9,909.6 C1728.8,908.0 1739.7,906.0 1747.4,905.5 C1755.1,905.0 1762.8,906.9 1769.2,906.9 C1775.6,906.9 1781.5,903.7 1785.6,905.5 C1789.7,907.3 1791.3,914.2 1793.8,917.8 C1796.3,921.4 1797.4,927.5 1800.6,927.3 C1803.8,927.1 1808.6,919.6 1812.9,916.4 C1817.2,913.2 1819.2,909.7 1826.5,908.2 C1833.8,906.8 1850.2,907.2 1856.6,907.7 C1863.0,908.2 1862.1,907.7 1864.8,911.0 C1867.5,914.3 1869.7,921.8 1872.9,927.3 C1876.1,932.8 1879.7,941.4 1883.8,943.7 C1887.9,946.0 1891.6,940.8 1897.5,941.0 C1903.4,941.2 1912.5,944.4 1919.3,945.1 C1926.1,945.8 1932.9,945.6 1938.4,945.1 C1943.9,944.6 1949.8,942.8 1952.1,942.3" fill="none" stroke="#fc4548" stroke-width="5.5" stroke-linejoin="round" stroke-linecap="butt"/>
<path d="M108.1,1053.1 C109.8,1053.7 114.1,1056.4 118.6,1056.6 C123.1,1056.8 129.5,1053.7 134.9,1054.3 C140.3,1054.9 143.3,1059.1 151.1,1060.1 C158.8,1061.1 173.2,1059.3 181.4,1060.1 C189.6,1060.9 191.9,1063.8 200.0,1064.8 C208.1,1065.8 221.7,1065.5 230.2,1065.9 C238.7,1066.3 243.8,1065.9 251.1,1067.1 C258.4,1068.3 265.8,1071.9 274.3,1072.9 C282.8,1073.9 294.4,1071.9 302.2,1072.9 C309.9,1073.9 314.6,1077.2 320.8,1078.7 C327.0,1080.2 334.4,1080.3 339.4,1082.2 C344.4,1084.1 346.4,1086.6 351.0,1090.3 C355.6,1094.0 361.9,1100.2 367.3,1104.3 C372.7,1108.4 378.2,1112.4 383.6,1114.7 C389.0,1117.0 395.2,1118.2 399.9,1118.2 C404.5,1118.2 406.5,1117.6 411.5,1114.7 C416.5,1111.8 423.9,1104.9 430.1,1100.8 C436.3,1096.7 440.9,1093.8 448.7,1090.3 C456.4,1086.8 467.3,1081.8 476.6,1079.9 C485.9,1078.0 497.5,1078.1 504.5,1078.7 C511.5,1079.3 513.8,1082.5 518.4,1083.3 C523.0,1084.1 525.5,1084.4 532.4,1083.3 C539.3,1082.2 553.3,1077.6 560.0,1076.4 C566.7,1075.2 568.5,1074.7 572.5,1076.4 C576.5,1078.1 580.7,1083.1 584.2,1086.8 C587.7,1090.5 590.8,1091.7 593.5,1098.5 C596.2,1105.3 597.3,1116.4 600.4,1127.9 C603.5,1139.4 608.6,1164.3 612.1,1167.4 C615.6,1170.5 618.3,1154.2 621.4,1146.5 C624.5,1138.8 627.8,1126.9 630.7,1120.9 C633.6,1114.9 636.1,1110.1 638.8,1110.5 C641.5,1110.9 644.4,1119.0 646.9,1123.2 C649.4,1127.5 651.6,1136.4 653.9,1136.0 C656.2,1135.6 658.6,1126.9 660.9,1120.9 C663.2,1114.9 665.5,1105.7 667.8,1100.0 C670.1,1094.3 672.8,1089.4 674.8,1086.8 C676.8,1084.2 676.1,1086.1 680.0,1084.5 C683.9,1082.9 690.1,1079.2 698.2,1077.2 C706.3,1075.2 715.4,1073.7 728.5,1072.4 C741.6,1071.1 760.8,1070.2 777.0,1069.3 C793.2,1068.4 809.3,1067.6 825.5,1066.9 C841.7,1066.2 858.2,1065.7 874.0,1065.1 C889.8,1064.5 905.9,1063.5 920.0,1063.3 C934.1,1063.0 932.9,1064.9 958.4,1063.6 C983.9,1062.3 1034.5,1058.2 1073.0,1055.5 C1111.5,1052.8 1162.1,1049.6 1189.2,1047.3 C1216.3,1045.0 1221.4,1042.8 1235.7,1041.5 C1250.0,1040.2 1266.3,1038.4 1275.2,1039.2 C1284.1,1040.0 1283.8,1044.5 1289.2,1046.2 C1294.6,1048.0 1302.4,1050.1 1307.8,1049.7 C1313.2,1049.3 1318.2,1044.2 1321.7,1043.8 C1325.2,1043.4 1325.6,1041.7 1328.7,1047.3 C1331.8,1052.9 1336.4,1066.7 1340.3,1077.5 C1344.2,1088.3 1348.6,1103.0 1351.9,1112.4 C1355.2,1121.8 1357.3,1133.3 1360.0,1133.7 C1362.7,1134.1 1365.5,1123.6 1368.0,1115.0 C1370.5,1106.4 1372.3,1091.7 1375.2,1082.2 C1378.1,1072.7 1382.1,1059.3 1385.6,1057.8 C1389.1,1056.2 1392.8,1064.2 1396.1,1072.9 C1399.4,1081.6 1402.7,1100.5 1405.4,1110.1 C1408.1,1119.6 1410.3,1129.9 1412.4,1130.2 C1414.5,1130.5 1416.1,1116.9 1418.0,1112.0 C1419.9,1107.1 1422.1,1103.8 1424.0,1100.8 C1425.9,1097.8 1427.2,1094.1 1429.5,1093.8 C1431.8,1093.5 1434.7,1100.3 1437.7,1099.2 C1440.7,1098.1 1443.4,1088.3 1447.3,1087.0 C1451.2,1085.7 1457.0,1090.6 1460.9,1091.1 C1464.8,1091.5 1465.5,1093.1 1470.5,1089.7 C1475.5,1086.3 1484.3,1073.1 1490.9,1070.6 C1497.5,1068.1 1505.0,1074.2 1510.0,1074.7 C1515.0,1075.2 1516.9,1070.6 1521.0,1073.3 C1525.1,1076.0 1529.1,1086.1 1534.6,1091.1 C1540.0,1096.1 1547.8,1105.6 1553.7,1103.3 C1559.6,1101.0 1564.2,1083.5 1570.1,1077.4 C1576.0,1071.3 1581.9,1069.0 1589.2,1066.5 C1596.5,1064.0 1606.9,1062.0 1613.7,1062.4 C1620.5,1062.9 1625.1,1069.7 1630.1,1069.2 C1635.1,1068.8 1639.2,1061.1 1643.7,1059.7 C1648.2,1058.3 1652.9,1061.7 1657.4,1061.0 C1662.0,1060.3 1665.1,1056.7 1671.0,1055.6 C1676.9,1054.5 1686.1,1054.7 1692.9,1054.2 C1699.7,1053.8 1706.9,1053.8 1711.9,1052.9 C1716.9,1052.0 1717.0,1050.2 1722.9,1048.8 C1728.8,1047.4 1739.7,1045.3 1747.4,1044.7 C1755.1,1044.1 1763.1,1045.7 1769.2,1045.2 C1775.3,1044.7 1780.7,1041.3 1784.3,1041.9 C1787.9,1042.5 1788.1,1046.3 1791.1,1048.8 C1794.0,1051.3 1798.4,1056.7 1802.0,1056.9 C1805.6,1057.1 1808.8,1052.4 1812.9,1050.1 C1817.0,1047.8 1818.8,1044.4 1826.5,1043.3 C1834.2,1042.2 1852.5,1042.4 1859.3,1043.3 C1866.1,1044.2 1863.9,1044.9 1867.5,1048.8 C1871.1,1052.7 1876.1,1063.3 1881.1,1066.5 C1886.1,1069.7 1891.1,1067.0 1897.5,1067.9 C1903.9,1068.8 1910.2,1071.5 1919.3,1071.9 C1928.4,1072.4 1946.6,1070.8 1952.1,1070.6" fill="none" stroke="#2a78e8" stroke-width="5.5" stroke-linejoin="round" stroke-linecap="butt"/>
<path d="M108.1,1188.3 C110.6,1188.7 118.4,1190.6 123.2,1190.7 C128.1,1190.8 132.5,1188.2 137.2,1188.8 C141.8,1189.4 145.7,1193.2 151.1,1194.1 C156.5,1195.0 163.9,1193.9 169.7,1194.1 C175.5,1194.3 180.9,1194.5 186.0,1195.3 C191.1,1196.1 193.4,1197.6 200.0,1198.8 C206.6,1200.0 217.0,1201.1 225.5,1202.3 C234.0,1203.5 241.8,1204.1 251.1,1205.8 C260.4,1207.5 271.6,1211.0 281.3,1212.7 C291.0,1214.4 301.1,1215.0 309.2,1216.2 C317.3,1217.4 324.7,1218.0 330.1,1219.7 C335.5,1221.5 337.4,1223.4 341.7,1226.7 C346.0,1230.0 350.3,1234.8 355.7,1239.5 C361.1,1244.2 368.9,1250.5 374.3,1254.6 C379.7,1258.7 383.6,1262.2 388.2,1263.9 C392.8,1265.6 397.9,1265.4 402.2,1265.0 C406.5,1264.6 409.9,1264.1 413.8,1261.6 C417.7,1259.1 419.6,1254.2 425.4,1249.9 C431.2,1245.6 441.7,1239.5 448.7,1236.0 C455.7,1232.5 461.5,1231.3 467.3,1229.0 C473.1,1226.7 477.3,1223.2 483.5,1222.0 C489.7,1220.8 497.5,1220.8 504.5,1222.0 C511.5,1223.2 519.2,1228.6 525.4,1229.0 C531.6,1229.4 536.9,1225.6 541.7,1224.4 C546.5,1223.2 549.6,1223.0 554.0,1222.0 C558.4,1221.0 564.0,1218.5 567.9,1218.5 C571.8,1218.5 574.1,1219.3 577.2,1222.0 C580.3,1224.7 583.4,1229.6 586.5,1234.8 C589.6,1240.0 593.1,1245.3 595.8,1253.4 C598.5,1261.5 600.1,1272.0 602.8,1283.6 C605.5,1295.2 609.0,1318.9 612.1,1323.2 C615.2,1327.5 618.3,1317.7 621.4,1309.2 C624.5,1300.7 627.8,1280.7 630.7,1272.0 C633.6,1263.3 636.1,1257.3 638.8,1256.9 C641.5,1256.5 644.4,1264.9 646.9,1269.7 C649.4,1274.5 651.6,1287.2 653.9,1286.0 C656.2,1284.8 658.2,1271.2 660.9,1262.7 C663.6,1254.2 667.0,1241.0 670.2,1234.8 C673.4,1228.5 675.3,1228.0 680.0,1225.2 C684.7,1222.4 690.1,1220.0 698.2,1217.9 C706.3,1215.8 715.4,1213.8 728.5,1212.4 C741.6,1211.0 760.8,1210.4 777.0,1209.4 C793.2,1208.4 809.3,1207.3 825.5,1206.4 C841.7,1205.5 858.2,1204.8 874.0,1204.0 C889.8,1203.2 902.3,1202.2 920.0,1201.5 C937.7,1200.8 954.5,1202.0 980.0,1200.0 C1005.5,1198.0 1038.1,1192.4 1073.0,1189.5 C1107.9,1186.6 1162.1,1184.4 1189.2,1182.5 C1216.3,1180.6 1221.4,1179.1 1235.7,1177.9 C1250.0,1176.7 1267.1,1175.1 1275.2,1175.5 C1283.3,1175.9 1281.4,1178.5 1284.5,1180.2 C1287.6,1182.0 1289.9,1184.2 1293.8,1186.0 C1297.7,1187.8 1303.1,1190.7 1307.8,1190.7 C1312.5,1190.7 1318.2,1186.0 1321.7,1186.0 C1325.2,1186.0 1325.6,1184.9 1328.7,1190.7 C1331.8,1196.5 1336.4,1208.9 1340.3,1220.9 C1344.2,1232.9 1348.6,1252.1 1351.9,1262.7 C1355.2,1273.3 1357.3,1283.2 1360.0,1284.8 C1362.7,1286.3 1365.3,1281.1 1368.2,1272.0 C1371.1,1262.9 1374.6,1241.4 1377.5,1230.2 C1380.4,1219.0 1382.9,1206.9 1385.6,1204.6 C1388.3,1202.3 1390.9,1208.1 1393.8,1216.2 C1396.7,1224.3 1400.0,1242.6 1403.1,1253.4 C1406.2,1264.2 1409.7,1279.0 1412.4,1281.3 C1415.1,1283.6 1417.0,1274.2 1419.3,1267.4 C1421.6,1260.6 1424.6,1245.3 1426.3,1240.6 C1428.0,1235.9 1427.6,1238.8 1429.5,1239.2 C1431.4,1239.6 1434.7,1245.0 1437.7,1243.2 C1440.7,1241.4 1443.4,1229.8 1447.3,1228.2 C1451.2,1226.6 1457.0,1233.0 1460.9,1233.7 C1464.8,1234.4 1466.4,1235.2 1470.5,1232.3 C1474.6,1229.3 1480.7,1219.6 1485.5,1216.0 C1490.3,1212.4 1495.0,1210.7 1499.1,1210.5 C1503.2,1210.3 1506.1,1214.1 1510.0,1214.6 C1513.9,1215.0 1518.2,1210.0 1522.3,1213.2 C1526.4,1216.4 1529.4,1228.0 1534.6,1233.7 C1539.8,1239.4 1549.2,1246.4 1553.7,1247.3 C1558.2,1248.2 1558.7,1243.7 1561.9,1239.2 C1565.1,1234.7 1567.3,1225.6 1572.8,1220.1 C1578.2,1214.6 1587.3,1209.4 1594.6,1206.4 C1601.9,1203.4 1610.3,1201.8 1616.5,1202.3 C1622.7,1202.8 1626.5,1209.8 1631.5,1209.1 C1636.5,1208.4 1642.0,1199.5 1646.5,1198.2 C1651.0,1196.9 1654.6,1201.9 1658.7,1201.0 C1662.8,1200.1 1666.2,1194.4 1671.0,1192.8 C1675.8,1191.2 1682.4,1192.4 1687.4,1191.4 C1692.4,1190.4 1696.5,1187.0 1701.0,1186.8 C1705.5,1186.6 1710.6,1190.4 1714.7,1190.0 C1718.8,1189.6 1719.2,1186.4 1725.6,1184.6 C1732.0,1182.8 1745.2,1179.8 1752.9,1179.1 C1760.6,1178.4 1766.5,1180.7 1772.0,1180.5 C1777.5,1180.3 1782.0,1176.9 1785.6,1177.8 C1789.2,1178.7 1791.1,1183.3 1793.8,1186.0 C1796.5,1188.7 1798.8,1193.9 1802.0,1194.1 C1805.2,1194.3 1807.9,1189.8 1812.9,1187.3 C1817.9,1184.8 1826.5,1180.0 1832.0,1179.1 C1837.5,1178.2 1840.6,1181.5 1845.6,1181.9 C1850.6,1182.3 1857.9,1180.2 1862.0,1181.3 C1866.1,1182.4 1866.6,1184.3 1870.2,1188.7 C1873.8,1193.1 1878.8,1204.5 1883.8,1207.8 C1888.8,1211.1 1894.7,1207.7 1900.2,1208.6 C1905.7,1209.5 1910.2,1212.7 1916.6,1213.2 C1923.0,1213.8 1932.5,1212.4 1938.4,1211.9 C1944.3,1211.5 1949.8,1210.7 1952.1,1210.5" fill="none" stroke="#3cb371" stroke-width="5.5" stroke-linejoin="round" stroke-linecap="butt"/>
<rect x="107.5" y="33.5" width="1845.1" height="1359.8" fill="none" stroke="#000" stroke-width="5.8"/>
<line x1="280.5" y1="1393" x2="280.5" y2="1419.5" stroke="#000" stroke-width="5.8"/>
<line x1="568.8" y1="1393" x2="568.8" y2="1419.5" stroke="#000" stroke-width="5.8"/>
<line x1="857.1" y1="1393" x2="857.1" y2="1419.5" stroke="#000" stroke-width="5.8"/>
<line x1="1145.4" y1="1393" x2="1145.4" y2="1419.5" stroke="#000" stroke-width="5.8"/>
<line x1="1433.7" y1="1393" x2="1433.7" y2="1419.5" stroke="#000" stroke-width="5.8"/>
<line x1="1722.0" y1="1393" x2="1722.0" y2="1419.5" stroke="#000" stroke-width="5.8"/>
<text x="279.1" y="1497.3" text-anchor="middle" font-size="78.5" font-family="'Liberation Serif','Times New Roman',serif" font-weight="bold">3500</text>
<text x="568.8" y="1497.3" text-anchor="middle" font-size="78.5" font-family="'Liberation Serif','Times New Roman',serif" font-weight="bold">3000</text>
<text x="857.1" y="1497.3" text-anchor="middle" font-size="78.5" font-family="'Liberation Serif','Times New Roman',serif" font-weight="bold">2500</text>
<text x="1145.4" y="1497.3" text-anchor="middle" font-size="78.5" font-family="'Liberation Serif','Times New Roman',serif" font-weight="bold">2000</text>
<text x="1433.7" y="1497.3" text-anchor="middle" font-size="78.5" font-family="'Liberation Serif','Times New Roman',serif" font-weight="bold">1500</text>
<text x="1722.0" y="1497.3" text-anchor="middle" font-size="78.5" font-family="'Liberation Serif','Times New Roman',serif" font-weight="bold">1000</text>
<text x="708.5" y="1589.5" font-size="77.5" font-family="'Liberation Serif','Times New Roman',serif" font-weight="bold">Wavenumber(cm</text>
<text x="1279" y="1558" font-size="54.4" font-family="'Liberation Serif','Times New Roman',serif" font-weight="bold">-1</text>
<text transform="translate(1319.5,1589.5) scale(1.22,1)" font-size="77.5" font-family="'Liberation Serif','Times New Roman',serif" font-weight="bold">)</text>
<text transform="translate(79.2,794.3) rotate(-90) scale(0.968,1)" x="0" y="0" font-size="79" font-family="'Liberation Serif','Times New Roman',serif" font-weight="bold">T(%)</text>
<text transform="translate(220.13,90.99) scale(1.0539,1)" font-size="71.1" fill="#000" font-family="'Liberation Serif','Times New Roman',serif" font-weight="bold">-CO-NH-</text>
<text transform="translate(586.79,124.09) scale(1.0650,1)" font-size="71.1" fill="#000" font-family="'Liberation Serif','Times New Roman',serif" font-weight="bold">C-H</text>
<text transform="translate(1215.13,106.19) scale(1.0546,1)" font-size="71.1" fill="#000" font-family="'Liberation Serif','Times New Roman',serif" font-weight="bold">-CO-NH-</text>
<text transform="translate(903.38,124.08) scale(1.0324,1)" font-size="71.7" fill="#a6a634" font-family="'Liberation Serif','Times New Roman',serif" font-weight="bold">SPA-2</text>
<text transform="translate(903.37,267.90) scale(1.0351,1)" font-size="71.7" fill="#845454" font-family="'Liberation Serif','Times New Roman',serif" font-weight="bold">SPA-1.5</text>
<text transform="translate(898.40,389.98) scale(1.0250,1)" font-size="71.7" fill="#10d0d6" font-family="'Liberation Serif','Times New Roman',serif" font-weight="bold">SPA-1</text>
<text transform="translate(900.77,527.00) scale(1.0338,1)" font-size="71.7" fill="#d6b03e" font-family="'Liberation Serif','Times New Roman',serif" font-weight="bold">SPA-0.5</text>
<text transform="translate(903.84,656.28) scale(1.0330,1)" font-size="71.7" fill="#d5bcea" font-family="'Liberation Serif','Times New Roman',serif" font-weight="bold">PA10T/1012</text>
<text transform="translate(903.63,774.80) scale(1.0393,1)" font-size="71.7" fill="#585858" font-family="'Liberation Serif','Times New Roman',serif" font-weight="bold">MPA-0.5</text>
<text transform="translate(905.84,907.90) scale(1.0332,1)" font-size="71.7" fill="#f07a7c" font-family="'Liberation Serif','Times New Roman',serif" font-weight="bold">MPA-1</text>
<text transform="translate(901.03,1031.30) scale(1.0404,1)" font-size="71.7" fill="#2a78e0" font-family="'Liberation Serif','Times New Roman',serif" font-weight="bold">MPA-1.5</text>
<text transform="translate(906.13,1176.40) scale(1.0395,1)" font-size="71.7" fill="#3cb371" font-family="'Liberation Serif','Times New Roman',serif" font-weight="bold">MPA-2</text>
</svg>
</body></html>
